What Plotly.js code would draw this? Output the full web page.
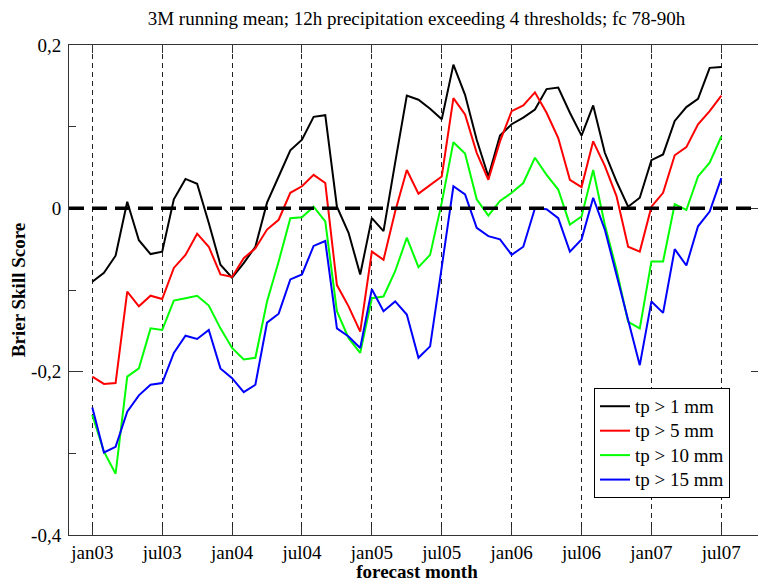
<!DOCTYPE html>
<html><head><meta charset="utf-8">
<script src="https://cdn.plot.ly/plotly-3.0.1.min.js"></script>
<style>html,body{margin:0;padding:0;background:#fff;overflow:hidden}#chart{width:765px;height:582px}</style>
</head><body><div id="chart"></div>
<script>
// Tick labels (every 6 months) and their month index
const tickLabels = ["jan03","jul03","jan04","jul04","jan05","jul05","jan06","jul06","jan07","jul07"];
const tickMonths = [0,6,12,18,24,30,36,42,48,54];

const seriesNames = ["tp > 1 mm","tp > 5 mm","tp > 10 mm","tp > 15 mm"];
const seriesColors = ["#000000","#ff0000","#00ff00","#0000ff"];

// Brier Skill Score, monthly from jan03 to jul07
const tp1 = [-0.090,-0.079,-0.058,0.008,-0.039,-0.056,-0.053,0.011,0.036,0.030,-0.018,-0.069,-0.085,-0.067,-0.047,0.007,0.039,0.071,0.084,0.112,0.114,0.002,-0.030,-0.081,-0.012,-0.028,0.056,0.138,0.133,0.122,0.109,0.176,0.139,0.084,0.039,0.089,0.103,0.111,0.121,0.146,0.148,0.117,0.089,0.126,0.068,0.033,0.002,0.013,0.059,0.066,0.107,0.124,0.134,0.172,0.173];
const tp5 = [-0.206,-0.215,-0.214,-0.102,-0.120,-0.107,-0.111,-0.073,-0.057,-0.031,-0.047,-0.081,-0.084,-0.061,-0.049,-0.026,-0.014,0.019,0.027,0.041,0.031,-0.094,-0.120,-0.151,-0.053,-0.063,-0.004,0.047,0.018,0.029,0.039,0.135,0.115,0.068,0.035,0.082,0.119,0.126,0.142,0.117,0.086,0.035,0.026,0.082,0.052,0.015,-0.047,-0.053,0.002,0.019,0.065,0.075,0.103,0.119,0.138];
const tp10 = [-0.253,-0.298,-0.325,-0.206,-0.196,-0.147,-0.149,-0.113,-0.110,-0.107,-0.119,-0.147,-0.171,-0.185,-0.183,-0.114,-0.065,-0.012,-0.011,0.002,-0.016,-0.126,-0.159,-0.177,-0.110,-0.108,-0.077,-0.036,-0.072,-0.057,0.007,0.081,0.067,0.011,-0.009,0.009,0.019,0.031,0.062,0.041,0.023,-0.020,-0.010,0.047,-0.020,-0.075,-0.139,-0.147,-0.065,-0.065,0.005,-0.002,0.039,0.056,0.088];
const tp15 = [-0.244,-0.299,-0.292,-0.249,-0.229,-0.216,-0.214,-0.177,-0.156,-0.160,-0.149,-0.196,-0.208,-0.225,-0.216,-0.140,-0.129,-0.087,-0.081,-0.046,-0.040,-0.147,-0.157,-0.171,-0.099,-0.126,-0.114,-0.130,-0.183,-0.169,-0.072,0.027,0.017,-0.024,-0.034,-0.038,-0.057,-0.047,0.000,-0.001,-0.012,-0.053,-0.038,0.013,-0.026,-0.081,-0.137,-0.192,-0.114,-0.128,-0.050,-0.070,-0.022,-0.004,0.037];

const yTickVals = [0.2,0,-0.2,-0.4];
const yTickText = ["0,2","0","-0,2","-0,4"];

const FONT = "Liberation Serif, Times New Roman, serif";
const allSeries = [tp1,tp5,tp10,tp15];
const traces = allSeries.map((vals,k)=>({
  type:"scatter", mode:"lines",
  x: vals.map((_,i)=>i), y: vals,
  name: '<span style="font-size:19px">' + seriesNames[k] + '</span>',
  line:{color:seriesColors[k], width:2}
}));

const layout = {
  width:765, height:582,
  margin:{l:69, r:0, t:45, b:47},
  paper_bgcolor:"#fff", plot_bgcolor:"#fff",
  font:{family:FONT, size:19, color:"#000"},
  title:{text:"3M running mean; 12h precipitation exceeding 4 thresholds; fc 78-90h",
         font:{family:FONT, size:19, color:"#000"},
         xref:"container", x:0.5445, xanchor:"center",
         yref:"container", y:1-18/582, yanchor:"middle"},
  xaxis:{
    range:[-2.0,57.75], tickvals:tickMonths, ticktext:tickLabels,
    ticks:"inside", ticklen:8, tickcolor:"#333", tickwidth:1,
    showline:true, linecolor:"#333", linewidth:1, mirror:"ticks",
    showgrid:true, gridcolor:"#222", gridwidth:1, griddash:"5px,4px",
    zeroline:false,
    tickfont:{family:FONT, size:19},
    title:{text:"<b>forecast month</b>", font:{family:FONT, size:19}, standoff:11}
  },
  yaxis:{
    range:[-0.4,0.2], tickvals:yTickVals, ticktext:yTickText,
    ticks:"inside", ticklen:14, tickcolor:"#333", tickwidth:1,
    minor:{dtick:0.1, tick0:0, ticks:"inside", ticklen:7, tickcolor:"#333", showgrid:false},
    showline:true, linecolor:"#333", linewidth:1, mirror:"ticks",
    showgrid:false, zeroline:false,
    tickfont:{family:FONT, size:19},
    ticklabelstandoff:3,
    title:{text:"<b>Brier Skill Score</b>", font:{family:FONT, size:19}, standoff:0}
  },
  shapes:[{type:"line", xref:"paper", x0:0, x1:1, yref:"y", y0:0, y1:0,
           line:{color:"#000", width:3.5, dash:"15px,8px"}}],
  showlegend:true,
  legend:{x:(594-69)/696, y:0.3, xanchor:"left", yanchor:"top",
          bgcolor:"#fff", bordercolor:"#000", borderwidth:1,
          font:{family:FONT, size:16.5}}
};

Plotly.newPlot("chart", traces, layout, {displayModeBar:false, staticPlot:true});
</script>
</body></html>
